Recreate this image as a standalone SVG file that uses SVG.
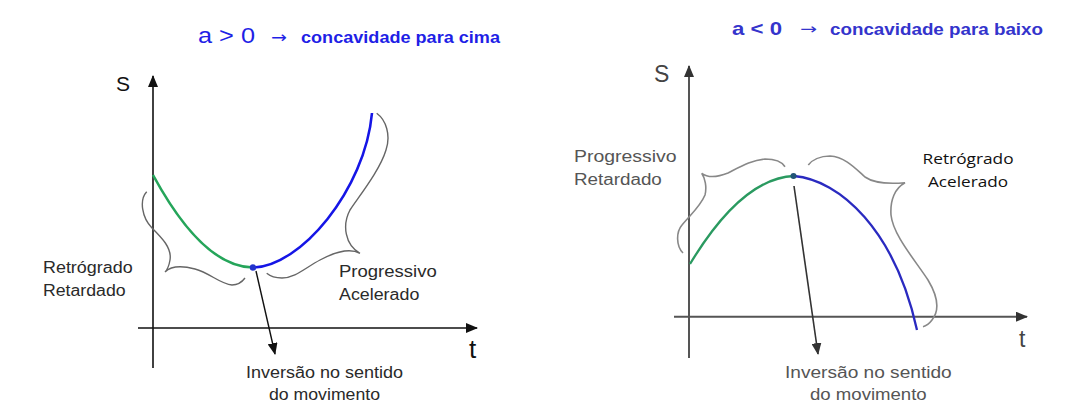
<svg xmlns="http://www.w3.org/2000/svg" width="1078" height="416" viewBox="0 0 1078 416">
<style>
.lbl{font-family:"Liberation Sans",Arial,sans-serif;font-size:16px;fill:#2a2a2a}
.lbl2{font-family:"Liberation Sans",Arial,sans-serif;font-size:16px;fill:#555}
.cal{font-family:"Open Sans","Liberation Sans",sans-serif;font-size:15px;fill:#111}
.ttl{font-family:"Liberation Sans",Arial,sans-serif}
.arr{font-family:"DejaVu Sans",sans-serif}
.axis{stroke:#111;stroke-width:1.6;fill:none}
.axis2{stroke:#555;stroke-width:2;fill:none}
.brace{stroke:#666;stroke-width:1.4;fill:none}
.brace2{stroke:#888;stroke-width:1.6;fill:none}
</style>
<defs>
<marker id="ah" markerUnits="userSpaceOnUse" markerWidth="12" markerHeight="10" refX="11" refY="5" orient="auto"><path d="M0,0 L12,5 L0,10 z" fill="#111"/></marker>
<marker id="ah2" markerUnits="userSpaceOnUse" markerWidth="12" markerHeight="10" refX="11" refY="5" orient="auto"><path d="M0,0 L12,5 L0,10 z" fill="#333"/></marker>
</defs>
<rect width="1078" height="416" fill="#fff"/>

<g id="left-panel">
<g id="left-title" class="ttl">
<text x="198" y="43" style="font-size:22px" fill="#1f1fe6" textLength="57" lengthAdjust="spacingAndGlyphs">a &gt; 0</text>
<text class="arr" x="271" y="43" style="font-size:16px" fill="#1f1fe6" textLength="16" lengthAdjust="spacingAndGlyphs">→</text>
<text x="301" y="43" style="font-size:17px;font-weight:bold" fill="#1f1fe6" textLength="199" lengthAdjust="spacingAndGlyphs">concavidade para cima</text>
</g>
<g id="left-axes">
<line class="axis" x1="153" y1="368" x2="153" y2="76" marker-end="url(#ah)"/>
<line class="axis" x1="138" y1="328" x2="477" y2="328" marker-end="url(#ah)"/>
<text class="lbl" x="116" y="91" style="font-size:21px;fill:#111">S</text>
<text class="lbl" x="469" y="358" style="font-size:26px;fill:#111">t</text>
</g>
<g id="left-curve">
<path d="M153,175 Q203,267 253,267.5" stroke="#25a55a" stroke-width="2.6" fill="none"/>
<path d="M253,267.5 C300,267 365,190 372,113" stroke="#1515e6" stroke-width="2.6" fill="none"/>
<circle cx="253" cy="267.5" r="3.2" fill="#2233cc"/>
</g>
<g id="left-braces">
<path class="brace" d="M146.7,191.7 C139,200 142,218 152,228 C162,238 172,248 170,260 C169,266 167,270 165,272 C170,267 180,265 195,269 C210,273 220,284 232,285 C238,285 242,282 245,278"/>
<path class="brace" d="M376.7,113.3 C386,120 391,135 386,150 C380,170 360,195 350,210 C342,225 345,245 360,253.3 C350,248 335,252 320,260 C305,268 295,278 282,278 C275,278 270,276 266.7,273.3"/>
</g>
<g id="left-labels">
<text class="lbl" x="43" y="272.7" textLength="89.6" lengthAdjust="spacingAndGlyphs">Retrógrado</text>
<text class="lbl" x="43" y="296" textLength="82.6" lengthAdjust="spacingAndGlyphs">Retardado</text>
<text class="lbl" x="339" y="276.7" textLength="97.7" lengthAdjust="spacingAndGlyphs">Progressivo</text>
<text class="lbl" x="339" y="300" textLength="80.3" lengthAdjust="spacingAndGlyphs">Acelerado</text>
<text class="lbl" x="246" y="378" textLength="157" lengthAdjust="spacingAndGlyphs">Inversão no sentido</text>
<text class="lbl" x="269" y="400" textLength="111" lengthAdjust="spacingAndGlyphs">do movimento</text>
</g>
</g>

<g id="right-panel">
<g id="right-title" class="ttl">
<text x="732" y="35" style="font-size:19px;font-weight:bold" fill="#3434cc" textLength="50" lengthAdjust="spacingAndGlyphs">a &lt; 0</text>
<text class="arr" x="800" y="34" style="font-size:15px" fill="#3434cc" textLength="17" lengthAdjust="spacingAndGlyphs">→</text>
<text x="830" y="35" style="font-size:16px;font-weight:bold" fill="#3434cc" textLength="213" lengthAdjust="spacingAndGlyphs">concavidade para baixo</text>
</g>
<g id="right-axes">
<line class="axis2" x1="689" y1="358" x2="689" y2="66" marker-end="url(#ah2)"/>
<line class="axis2" x1="674" y1="316.7" x2="1027" y2="316.7" marker-end="url(#ah2)"/>
<text class="lbl2" x="654" y="82" style="font-size:23px;fill:#444">S</text>
<text class="lbl2" x="1019" y="347" style="font-size:23px;fill:#444">t</text>
</g>
<g id="right-curve">
<path d="M690,264 Q742,178 794,176" stroke="#2a9a60" stroke-width="2.3" fill="none"/>
<path d="M794,176 C840,180 895,230 917,330" stroke="#2a2ac0" stroke-width="2.3" fill="none"/>
<circle cx="793.5" cy="176" r="3" fill="#225577"/>
</g>
<g id="right-braces">
<path class="brace2" d="M683,253 C676,246 676,232 682,225 C690,215 700,207 705,195 C707,187 705,178 701.7,173.3 C708,178 718,177 728,173 C740,167 752,160 765,159 C775,159 782,162 785,166.7"/>
<path class="brace2" d="M808.3,165 C812,160 820,156 830,156 C845,157 855,168 865,177 C875,184 890,184 905,182.7 C895,188 890,200 891,215 C893,235 915,260 928,280 C937,295 940,310 932,320 C929,324 926,326 923,326.7"/>
</g>
<g id="right-labels">
<text class="lbl2" x="574" y="162" textLength="102.6" lengthAdjust="spacingAndGlyphs">Progressivo</text>
<text class="lbl2" x="574" y="185" textLength="87.8" lengthAdjust="spacingAndGlyphs">Retardado</text>
<text class="cal" x="922.6" y="164" textLength="91" lengthAdjust="spacingAndGlyphs">Retrógrado</text>
<text class="cal" x="928" y="186.7" textLength="80" lengthAdjust="spacingAndGlyphs">Acelerado</text>
<text class="lbl2" x="785" y="378" textLength="166.7" lengthAdjust="spacingAndGlyphs">Inversão no sentido</text>
<text class="lbl2" x="810" y="400" textLength="116.7" lengthAdjust="spacingAndGlyphs">do movimento</text>
</g>
</g>

<g id="connectors">
<line x1="256" y1="271" x2="275" y2="354" stroke="#111" stroke-width="1.4" marker-end="url(#ah)"/>
<line x1="794" y1="186" x2="818" y2="354" stroke="#333" stroke-width="1.6" marker-end="url(#ah2)"/>
</g>
</svg>
